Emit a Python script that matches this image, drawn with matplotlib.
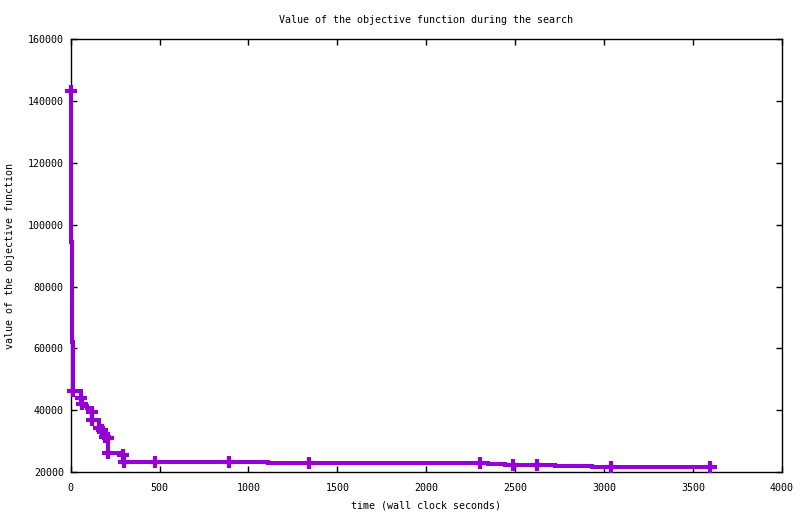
import matplotlib
matplotlib.use("Agg")
import matplotlib.pyplot as plt

# step-line vertices (time in s, objective value)
line_t = [0, 1, 4, 8, 12, 56, 62, 75, 90, 105, 118, 120, 161, 176, 195, 208,
          210, 293, 302, 474, 891, 1108, 1341, 2303, 2350, 2443, 2487, 2624,
          2725, 2931, 3038, 3597, 3625]
line_v = [143300, 126850, 94500, 62150, 46200, 44040, 42000, 41200, 40600,
          40000, 39500, 36800, 34330, 33700, 31420, 30900, 26050, 25500,
          23330, 23300, 23300, 23010, 23010, 23010, 22590, 22260, 22260,
          22260, 22040, 21710, 21710, 21710, 21710]

# points drawn with "+" markers
mark_t = [0, 12, 56, 62, 118, 120, 161, 176, 195, 208, 210, 293, 302, 474,
          891, 1341, 2303, 2487, 2624, 3038, 3597]
mark_v = [143300, 46200, 44040, 42000, 39500, 36800, 34330, 33700, 31420,
          30900, 26050, 25500, 23330, 23300, 23300, 23010, 23010, 22260,
          22260, 21710, 21710]

xticks = [0, 500, 1000, 1500, 2000, 2500, 3000, 3500, 4000]
yticks = [20000, 40000, 60000, 80000, 100000, 120000, 140000, 160000]

COLOR = "#9400d3"
FONT = "DejaVu Sans Mono"
FS = 7.2

fig = plt.figure(figsize=(8.0, 5.14), dpi=100)
ax = fig.add_axes([0.0884, 0.0817, 0.8888, 0.8418])

ax.step(line_t, line_v, where="post", color=COLOR, lw=2.9,
        solid_joinstyle="miter", clip_on=False, zorder=3)
ax.plot(mark_t, mark_v, linestyle="none", marker="+", color=COLOR,
        markersize=8.5, markeredgewidth=3, clip_on=False, zorder=4)

ax.set_xlim(0, 4000)
ax.set_ylim(20000, 160000)
ax.set_xticks(xticks)
ax.set_yticks(yticks)
ax.set_xticklabels([str(t) for t in xticks], fontsize=FS, family=FONT)
ax.set_yticklabels([str(t) for t in yticks], fontsize=FS, family=FONT)
ax.tick_params(direction="in", length=4.5, width=1, top=True, right=True,
               color="black")
ax.tick_params(axis="x", pad=8)
ax.tick_params(axis="y", pad=5)
for s in ax.spines.values():
    s.set_linewidth(1.0)
    s.set_color("black")
    s.set_zorder(2)

ax.set_title("Value of the objective function during the search",
             fontsize=FS, family=FONT, pad=12)
ax.set_xlabel("time (wall clock seconds)", fontsize=FS, family=FONT, labelpad=5)
ax.set_ylabel("value of the objective function", fontsize=FS, family=FONT,
              labelpad=9)

fig.savefig("out.png", dpi=100)
